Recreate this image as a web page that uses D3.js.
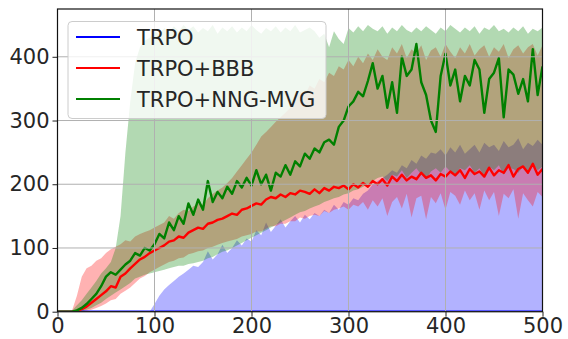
<!DOCTYPE html>
<html>
<head>
<meta charset="utf-8">
<script src="https://cdn.jsdelivr.net/npm/d3@7"></script>
<style>
  html, body { margin: 0; padding: 0; background: #fff; }
  svg { display: block; font-family: 'DejaVu Sans', sans-serif; }
</style>
</head>
<body>
<div id="chart"></div>
<script>
// iterations are sampled every 5 steps, 0..500
const step = 5;

const xTicks = [0, 100, 200, 300, 400, 500];
const yTicks = [0, 100, 200, 300, 400];

const seriesNames = ['TRPO', 'TRPO+BBB', 'TRPO+NNG-MVG'];

// TRPO: mean stays on the floor, band reaches up
const trpoMean = [
  0, 0, 0, 0, 0, 0, 0, 0, 0, 0, 0, 0, 0, 0, 0, 0, 0, 0, 0, 0,
  0, 0, 0, 0, 0, 0, 0, 0, 0, 0, 0, 0, 0, 0, 0, 0, 0, 0, 0, 0,
  0, 0, 0, 0, 0, 0, 0, 0, 0, 0, 0, 0, 0, 0, 0, 0, 0, 0, 0, 0,
  0, 0, 0, 0, 0, 0, 0, 0, 0, 0, 0, 0, 0, 0, 0, 0, 0, 0, 0, 0,
  0, 0, 0, 0, 0, 0, 0, 0, 0, 0, 0, 0, 0, 0, 0, 0, 0, 0, 0, 0, 0
];
const trpoLow = trpoMean;
const trpoHigh = [
  0, 0, 0, 0, 0, 0, 0, 0, 0, 0, 0, 0, 0, 0, 0, 0, 0, 0, 0, 0,
  12, 25, 35, 42, 48, 55, 60, 66, 72, 70, 78, 95, 82, 90, 105, 92, 100, 112, 104, 115,
  110, 128, 120, 140, 125, 135, 145, 132, 142, 150, 140, 152, 145, 155, 150, 160, 155, 168, 160, 172,
  168, 178, 175, 185, 190, 200, 205, 210, 215, 222, 218, 230, 225, 238, 232, 245, 240, 250, 248, 255,
  245, 258, 250, 262, 248, 255, 262, 250, 265, 258, 262, 252, 268, 258, 262, 272, 255, 265, 260, 270, 262
];

const bbbMean = [
  0, 0, 0, 0, 1, 4, 8, 14, 20, 26, 32, 40, 38, 55, 60, 68, 75, 82, 86, 92,
  96, 100, 104, 110, 112, 118, 116, 124, 128, 132, 130, 138, 140, 144, 146, 150, 154, 152, 160, 162,
  166, 170, 168, 176, 180, 178, 184, 180, 186, 184, 190, 188, 185, 192, 186, 194, 190, 196, 194, 198,
  192, 200, 195, 202, 196, 205, 200, 208, 198, 212, 205, 215, 206, 212, 208, 218, 210, 214, 206, 216,
  212, 220, 214, 222, 210, 224, 216, 220, 212, 226, 214, 222, 218, 230, 212, 224, 228, 218, 232, 215, 224
];
const bbbLow = [
  0, 0, 0, 0, 0, 0, 1, 3, 6, 9, 13, 18, 20, 28, 33, 38, 45, 52, 56, 62,
  66, 70, 74, 78, 80, 84, 85, 90, 92, 95, 96, 100, 102, 105, 108, 110, 112, 114, 118, 120,
  122, 126, 126, 130, 134, 134, 138, 138, 142, 142, 148, 146, 150, 152, 150, 158, 155, 160, 162, 165,
  160, 168, 165, 172, 160, 175, 165, 178, 150, 172, 180, 162, 185, 148, 178, 182, 145, 180, 170, 186,
  160, 188, 182, 168, 190, 175, 186, 160, 190, 175, 188, 150, 185, 178, 192, 146, 186, 175, 165, 188, 180
];
const bbbHigh = [
  0, 0, 0, 2, 25, 55, 68, 72, 80, 84, 92, 98, 102, 106, 112, 110, 118, 122, 125, 128,
  132, 136, 140, 150, 146, 155, 160, 158, 165, 170, 168, 178, 185, 190, 195, 202, 210, 220, 230, 240,
  250, 262, 275, 282, 290, 298, 305, 312, 320, 330, 345, 340, 355, 350, 365, 360, 375, 370, 385, 380,
  395, 385, 400, 390, 405, 395, 412, 400, 395, 415, 405, 420, 398, 412, 405, 418, 395, 410, 415, 400,
  420, 408, 398, 415, 405, 420, 402, 412, 418, 400, 415, 408, 420, 398, 412, 418, 405, 415, 420, 402, 418
];

const nngMean = [
  0, 0, 0, 0, 2, 6, 12, 20, 28, 40, 55, 62, 58, 66, 74, 80, 92, 88, 100, 96,
  106, 122, 115, 140, 128, 150, 138, 170, 152, 176, 160, 205, 172, 188, 178, 196, 185, 205, 195, 210,
  198, 222, 200, 215, 190, 218, 212, 230, 215, 236, 228, 248, 240, 256, 250, 266, 270, 262, 290, 300,
  322, 330, 345, 338, 362, 390, 350, 370, 320, 360, 312, 400, 370, 380, 420, 360, 340, 300, 282, 370,
  405, 355, 380, 330, 370, 355, 395, 380, 312, 365, 375, 398, 305, 380, 372, 342, 365, 330, 412, 340, 385
];
const nngLow = [
  0, 0, 0, 0, 0, 0, 3, 6, 10, 14, 20, 25, 30, 35, 40, 45, 52, 55, 58, 60,
  62, 64, 66, 68, 70, 72, 72, 75, 76, 78, 80, 84, 86, 90, 94, 96, 100, 104, 108, 112,
  116, 120, 124, 128, 132, 136, 140, 144, 148, 152, 156, 158, 162, 165, 168, 172, 175, 178, 180, 184,
  186, 190, 192, 196, 200, 205, 210, 212, 205, 215, 212, 222, 210, 218, 225, 215, 208, 220, 225, 218,
  228, 220, 215, 225, 222, 230, 218, 225, 212, 228, 222, 230, 215, 226, 224, 218, 228, 220, 232, 222, 228
];
const nngHigh = [
  0, 0, 0, 2, 10, 18, 28, 38, 48, 60, 68, 78, 100, 150, 250, 330, 390, 415, 425, 430,
  440, 435, 445, 438, 448, 440, 450, 442, 448, 438, 445, 440, 450, 436, 446, 440, 448, 438, 446, 440,
  450, 442, 436, 445, 440, 448, 438, 446, 440, 450, 438, 442, 446, 440, 430, 436, 415, 440, 428, 420,
  445, 438, 448, 440, 450, 444, 440, 448, 436, 446, 440, 450, 442, 438, 446, 440, 448, 442, 436, 446,
  440, 450, 444, 438, 446, 440, 448, 436, 446, 442, 450, 440, 444, 438, 446, 440, 448, 436, 444, 440, 446
];

const colors = ['#0000ff', '#ff0000', '#008000'];

const W = 568, H = 339;
const m = { top: 9, right: 25.5, bottom: 27.3, left: 57.5 };

const x = d3.scaleLinear().domain([0, 500]).range([m.left, W - m.right]);
const y = d3.scaleLinear().domain([0, 475]).range([H - m.bottom, m.top]);

const svg = d3.select('#chart').append('svg').attr('width', W).attr('height', H);

svg.append('clipPath').attr('id', 'plot-clip')
  .append('rect')
  .attr('x', m.left).attr('y', m.top)
  .attr('width', W - m.left - m.right).attr('height', H - m.top - m.bottom);

const series = [
  { mean: trpoMean, lo: trpoLow, hi: trpoHigh },
  { mean: bbbMean, lo: bbbLow, hi: bbbHigh },
  { mean: nngMean, lo: nngLow, hi: nngHigh }
];

const plot = svg.append('g').attr('clip-path', 'url(#plot-clip)');

// shaded bands first
series.forEach((s, k) => {
  const area = d3.area()
    .x((d, i) => x(i * step))
    .y0((d, i) => y(s.lo[i]))
    .y1((d, i) => y(s.hi[i]));
  plot.append('path')
    .datum(s.mean)
    .attr('d', area)
    .attr('fill', colors[k])
    .attr('fill-opacity', 0.3);
});

// grid sits above the bands, under the lines
const grid = svg.append('g');
grid.selectAll('line.gx').data(xTicks).join('line')
  .attr('x1', (d) => x(d)).attr('x2', (d) => x(d))
  .attr('y1', m.top).attr('y2', H - m.bottom)
  .attr('stroke', '#b0b0b0').attr('stroke-width', 1);
grid.selectAll('line.gy').data(yTicks).join('line')
  .attr('x1', m.left).attr('x2', W - m.right)
  .attr('y1', (d) => y(d)).attr('y2', (d) => y(d))
  .attr('stroke', '#b0b0b0').attr('stroke-width', 1);

series.forEach((s, k) => {
  const line = d3.line()
    .x((d, i) => x(i * step))
    .y((d) => y(d));
  plot.append('path')
    .datum(s.mean)
    .attr('d', line)
    .attr('fill', 'none')
    .attr('stroke', colors[k])
    .attr('stroke-width', 2.4)
    .attr('stroke-linejoin', 'round');
});

// axes
const ax = svg.append('g')
  .attr('transform', `translate(0,${H - m.bottom})`)
  .call(d3.axisBottom(x).tickValues(xTicks).tickSize(5).tickPadding(1));
const ay = svg.append('g')
  .attr('transform', `translate(${m.left},0)`)
  .call(d3.axisLeft(y).tickValues(yTicks).tickSize(5).tickPadding(3));
[ax, ay].forEach((g) => {
  g.select('.domain').remove();
  g.selectAll('.tick line').attr('stroke', '#222').attr('stroke-width', 1);
  g.selectAll('.tick text')
    .attr('fill', '#262626')
    .attr('font-size', '21px')
    .attr('font-family', 'DejaVu Sans, sans-serif');
});

// frame
svg.append('rect')
  .attr('x', m.left).attr('y', m.top)
  .attr('width', W - m.left - m.right).attr('height', H - m.top - m.bottom)
  .attr('fill', 'none')
  .attr('stroke', '#111')
  .attr('stroke-width', 1.2);

// legend
const leg = svg.append('g').attr('transform', 'translate(68,21.5)');
leg.append('rect')
  .attr('width', 258).attr('height', 97)
  .attr('rx', 4)
  .attr('fill', '#fff').attr('fill-opacity', 0.8)
  .attr('stroke', '#cccccc').attr('stroke-width', 1);
seriesNames.forEach((name, k) => {
  const ly = 15.5 + k * 31;
  leg.append('line')
    .attr('x1', 8).attr('x2', 52)
    .attr('y1', ly).attr('y2', ly)
    .attr('stroke', colors[k]).attr('stroke-width', 2.2);
  leg.append('text')
    .attr('x', 69).attr('y', ly)
    .attr('dy', '0.36em')
    .attr('fill', '#262626')
    .attr('font-size', '21px')
    .text(name);
});
</script>
</body>
</html>
